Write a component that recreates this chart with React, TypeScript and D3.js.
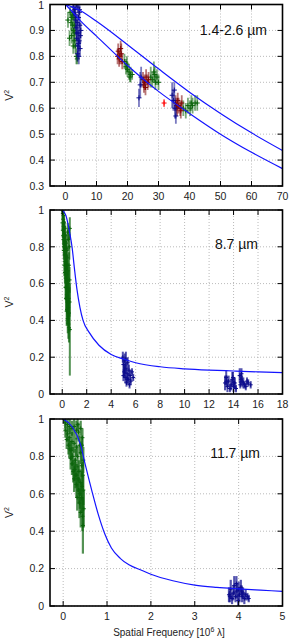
import React from 'react';
import * as d3 from 'd3';

// x: spatial frequency [10^6 lambda], y: V^2, e: V^2 error
type Pt = [number, number, number];
type XY = [number, number];

// ---- 1.4-2.6 um ----
const nirBlue: Pt[] = [
  [2.5, 0.99, 0.02], [3.0, 0.98, 0.02], [3.5, 1.0, 0.02], [4.0, 0.99, 0.02], [4.5, 0.98, 0.02],
  [3.2, 0.96, 0.03], [4.2, 0.95, 0.03], [3.8, 0.93, 0.03], [4.6, 0.92, 0.03], [3.4, 0.91, 0.03],
  [4.1, 0.89, 0.03], [4.8, 0.88, 0.03], [3.6, 0.87, 0.03], [4.4, 0.86, 0.03], [4.0, 0.84, 0.03],
  [4.7, 0.83, 0.03], [3.9, 0.81, 0.03], [4.3, 0.8, 0.03], [4.5, 0.97, 0.02], [2.8, 0.97, 0.02],
  [3.3, 0.94, 0.03], [4.9, 0.9, 0.03], [4.2, 0.85, 0.03], [3.7, 0.89, 0.03],
  [23.7, 0.64, 0.035], [24.1, 0.69, 0.05], [24.4, 0.72, 0.04],
  [34.4, 0.65, 0.05], [34.8, 0.63, 0.04], [35.1, 0.67, 0.03], [35.6, 0.57, 0.03], [35.3, 0.6, 0.04],
];
const nirGreen: Pt[] = [
  [1.5, 0.97, 0.02], [2.0, 0.95, 0.02], [1.8, 0.93, 0.03], [2.3, 0.92, 0.03], [2.6, 0.9, 0.03],
  [2.0, 0.88, 0.03], [3.0, 0.89, 0.03], [2.8, 0.86, 0.03], [2.5, 0.84, 0.03], [3.2, 0.84, 0.03],
  [3.5, 0.8, 0.03], [3.8, 0.79, 0.02], [0.8, 0.94, 0.03], [1.3, 0.87, 0.03], [2.2, 0.96, 0.02],
  [3.0, 0.92, 0.03], [2.7, 0.95, 0.02],
  [19.0, 0.78, 0.03], [19.5, 0.76, 0.03], [20.0, 0.75, 0.03], [20.5, 0.74, 0.03], [21.0, 0.73, 0.03],
  [19.8, 0.77, 0.03], [20.8, 0.72, 0.02], [21.5, 0.73, 0.02],
  [27.5, 0.72, 0.04], [28.0, 0.71, 0.03], [28.5, 0.74, 0.04], [29.0, 0.7, 0.03], [29.5, 0.72, 0.03],
  [30.0, 0.7, 0.03], [28.8, 0.73, 0.03],
  [38.0, 0.6, 0.03], [38.8, 0.59, 0.03], [39.5, 0.61, 0.03], [40.2, 0.6, 0.03], [41.0, 0.61, 0.03],
  [41.8, 0.62, 0.03], [42.5, 0.62, 0.03], [40.6, 0.62, 0.03],
];
const nirDarkRed: Pt[] = [
  [17.0, 0.82, 0.03], [17.5, 0.8, 0.03], [18.0, 0.81, 0.04], [17.3, 0.79, 0.03], [18.3, 0.78, 0.03],
  [17.8, 0.83, 0.03], [16.8, 0.8, 0.03],
  [25.0, 0.71, 0.03], [25.5, 0.7, 0.03], [26.0, 0.72, 0.03], [26.5, 0.7, 0.03], [25.3, 0.69, 0.03],
  [26.8, 0.71, 0.03], [25.8, 0.68, 0.03],
  [35.5, 0.62, 0.03], [36.0, 0.6, 0.03], [36.5, 0.61, 0.03], [37.0, 0.6, 0.03], [37.5, 0.62, 0.03],
  [36.2, 0.63, 0.03], [37.2, 0.59, 0.03], [35.8, 0.61, 0.03],
];
const nirRed: Pt[] = [[31.8, 0.62, 0.015]];
const nirModelUpper: XY[] = [
  [0, 1.0], [5, 0.975], [10, 0.935], [20, 0.845], [30, 0.752], [40, 0.662], [50, 0.58], [60, 0.505], [70, 0.437],
];
const nirModelLower: XY[] = [
  [0, 1.0], [2, 0.975], [5, 0.935], [10, 0.878], [20, 0.765], [30, 0.665], [40, 0.58], [50, 0.5], [60, 0.43], [70, 0.367],
];

// ---- 8.7 um ----
const n87Green: Pt[] = [
  [0.0, 1.0, 0.02], [0.05, 0.98, 0.03], [0.1, 0.97, 0.03], [0.08, 0.95, 0.04], [0.15, 0.93, 0.04],
  [0.12, 0.91, 0.04], [0.2, 0.9, 0.04], [0.05, 0.89, 0.04], [0.18, 0.87, 0.05], [0.25, 0.86, 0.05],
  [0.1, 0.84, 0.05], [0.22, 0.83, 0.05], [0.3, 0.82, 0.05], [0.15, 0.8, 0.05], [0.28, 0.79, 0.05],
  [0.35, 0.78, 0.05], [0.2, 0.76, 0.05], [0.32, 0.75, 0.06], [0.4, 0.74, 0.06], [0.25, 0.72, 0.06],
  [0.38, 0.7, 0.06], [0.3, 0.68, 0.06], [0.45, 0.67, 0.06], [0.35, 0.65, 0.06], [0.28, 0.63, 0.06],
  [0.42, 0.62, 0.07], [0.5, 0.6, 0.07], [0.33, 0.58, 0.07], [0.45, 0.56, 0.07], [0.38, 0.54, 0.07],
  [0.52, 0.52, 0.07], [0.42, 0.5, 0.08], [0.48, 0.47, 0.08], [0.36, 0.45, 0.08], [0.55, 0.44, 0.08],
  [0.45, 0.41, 0.08], [0.5, 0.38, 0.08], [0.55, 0.36, 0.08], [0.62, 0.35, 0.25], [0.62, 0.9, 0.06],
  [0.58, 0.8, 0.07], [0.55, 0.7, 0.07], [0.02, 0.93, 0.04], [0.07, 0.86, 0.05], [0.13, 0.78, 0.05],
  [0.17, 0.7, 0.06], [0.22, 0.66, 0.06], [0.27, 0.58, 0.07], [0.31, 0.52, 0.07], [0.4, 0.46, 0.08],
  [0.6, 0.62, 0.07], [0.6, 0.5, 0.08], [0.5, 0.84, 0.06], [0.45, 0.88, 0.05],
];
const n87Blue: Pt[] = [
  [4.95, 0.2, 0.03], [5.0, 0.16, 0.03], [5.05, 0.12, 0.03], [5.1, 0.18, 0.04], [5.15, 0.09, 0.03],
  [5.2, 0.14, 0.03], [5.25, 0.06, 0.02], [5.3, 0.11, 0.03], [5.35, 0.17, 0.03], [5.4, 0.08, 0.03],
  [5.45, 0.13, 0.03], [5.5, 0.05, 0.02], [5.55, 0.1, 0.03], [5.6, 0.07, 0.02], [5.7, 0.12, 0.02],
  [5.8, 0.09, 0.02], [5.2, 0.19, 0.04], [5.0, 0.1, 0.03], [5.1, 0.13, 0.03], [5.3, 0.08, 0.02],
  [13.3, 0.06, 0.04], [13.4, 0.09, 0.04], [13.5, 0.04, 0.03], [13.6, 0.07, 0.03], [13.7, 0.03, 0.02],
  [13.8, 0.05, 0.03], [13.9, 0.08, 0.04], [14.0, 0.04, 0.03], [14.1, 0.06, 0.03], [14.2, 0.03, 0.02],
  [14.5, 0.1, 0.04], [14.6, 0.08, 0.03], [14.7, 0.07, 0.03], [14.8, 0.06, 0.03], [14.9, 0.05, 0.02],
  [15.0, 0.04, 0.02], [15.2, 0.06, 0.02], [15.4, 0.05, 0.02], [14.65, 0.11, 0.03], [13.95, 0.09, 0.03],
  [13.45, 0.07, 0.03], [14.05, 0.06, 0.03], [14.55, 0.05, 0.02], [15.1, 0.07, 0.02],
];
const n87Model: XY[] = [
  [0, 1.0], [0.3, 0.97], [0.6, 0.88], [0.8, 0.8], [1.0, 0.68], [1.2, 0.57], [1.45, 0.47], [1.7, 0.4],
  [2.2, 0.335], [3, 0.265], [4, 0.215], [5, 0.19], [6, 0.17], [8, 0.148], [10, 0.137], [12, 0.13],
  [14, 0.125], [16, 0.12], [18, 0.116],
];

// ---- 11.7 um ----
const n117Green: Pt[] = [
  [0.02, 1.0, 0.02], [0.05, 0.98, 0.03], [0.1, 0.97, 0.04], [0.15, 0.96, 0.04], [0.2, 0.95, 0.04],
  [0.25, 0.96, 0.04], [0.3, 0.94, 0.05], [0.35, 0.93, 0.05], [0.05, 0.94, 0.04], [0.1, 0.92, 0.04],
  [0.15, 0.9, 0.05], [0.2, 0.88, 0.05], [0.25, 0.87, 0.05], [0.3, 0.85, 0.05], [0.38, 0.86, 0.05],
  [0.12, 0.86, 0.05], [0.18, 0.83, 0.05], [0.22, 0.8, 0.05], [0.28, 0.78, 0.06], [0.33, 0.8, 0.06],
  [0.4, 0.82, 0.06], [0.2, 0.76, 0.06], [0.26, 0.73, 0.06], [0.31, 0.7, 0.06], [0.36, 0.72, 0.06],
  [0.42, 0.75, 0.06], [0.25, 0.68, 0.07], [0.3, 0.65, 0.07], [0.35, 0.62, 0.07], [0.4, 0.66, 0.07],
  [0.45, 0.7, 0.07], [0.32, 0.58, 0.07], [0.37, 0.55, 0.08], [0.42, 0.58, 0.08], [0.46, 0.62, 0.08],
  [0.4, 0.5, 0.08], [0.44, 0.48, 0.08], [0.47, 0.52, 0.1], [0.45, 0.43, 0.15],
  [0.4, 0.95, 0.04], [0.44, 0.9, 0.05], [0.33, 0.97, 0.03], [0.08, 0.89, 0.05], [0.14, 0.84, 0.05],
  [0.17, 0.79, 0.06], [0.23, 0.72, 0.06], [0.28, 0.7, 0.07], [0.34, 0.68, 0.07], [0.38, 0.6, 0.08],
  [0.43, 0.64, 0.08], [0.46, 0.78, 0.07], [0.43, 0.86, 0.05],
];
const n117Blue: Pt[] = [
  [3.78, 0.06, 0.04], [3.82, 0.09, 0.05], [3.85, 0.04, 0.03], [3.88, 0.07, 0.04], [3.9, 0.11, 0.05],
  [3.93, 0.05, 0.03], [3.96, 0.08, 0.04], [3.99, 0.03, 0.03], [4.02, 0.06, 0.04], [4.05, 0.1, 0.04],
  [4.08, 0.05, 0.03], [4.1, 0.07, 0.03], [4.13, 0.04, 0.03], [4.16, 0.06, 0.03], [4.2, 0.05, 0.02],
  [4.23, 0.04, 0.02], [3.95, 0.12, 0.04], [4.0, 0.09, 0.04], [3.8, 0.05, 0.03], [4.07, 0.08, 0.03],
];
const n117Model: XY[] = [
  [0, 1.0], [0.2, 0.96], [0.4, 0.86], [0.5, 0.76], [0.65, 0.62], [0.8, 0.49], [0.95, 0.385], [1.1, 0.31],
  [1.3, 0.255], [1.5, 0.22], [1.8, 0.19], [2, 0.17], [2.5, 0.135], [3, 0.112], [3.5, 0.1], [4, 0.092],
  [4.5, 0.085], [5, 0.078],
];

const nirXTicks = [0, 10, 20, 30, 40, 50, 60, 70];
const nirYTicks = [0.3, 0.4, 0.5, 0.6, 0.7, 0.8, 0.9, 1];
const n87XTicks = [0, 2, 4, 6, 8, 10, 12, 14, 16, 18];
const n117XTicks = [0, 1, 2, 3, 4, 5];
const midYTicks = [0, 0.2, 0.4, 0.6, 0.8, 1];

const BLUE = '#0c0c8c';
const GREEN = '#0b640b';
const DARKRED = '#800606';
const RED = '#ff0000';
const FONT = '"Liberation Sans", Arial, Helvetica, sans-serif';

interface Series {
  points: Pt[];
  color: string;
}

interface PanelProps {
  id: string;
  top: number;
  bottom: number;
  xDomain: [number, number];
  yDomain: [number, number];
  xTicks: number[];
  yTicks: number[];
  series: Series[];
  models: XY[][];
  label: string;
  labelX: number;
  labelY: number;
  mark: number;
  barWidth: number;
  barOpacity: number;
}

const LEFT = 50;
const RIGHT = 282.5;

function Panel(props: PanelProps) {
  const { id, top, bottom, xDomain, yDomain, xTicks, yTicks, series, models, label, labelX, labelY, mark } = props;
  const x = d3.scaleLinear().domain(xDomain).range([LEFT, RIGHT]);
  const y = d3.scaleLinear().domain(yDomain).range([bottom, top]);
  const line = d3
    .line<XY>()
    .x(d => x(d[0]))
    .y(d => y(d[1]))
    .curve(d3.curveMonotoneX);
  const fmt = d3.format('~g');
  const tick = 5;

  return (
    <g>
      <defs>
        <clipPath id={id}>
          <rect x={LEFT} y={top} width={RIGHT - LEFT} height={bottom - top} />
        </clipPath>
      </defs>

      <g stroke="#a8a8a8" strokeWidth={0.8} strokeDasharray="1,2">
        {xTicks.map(t => (
          <line key={'gx' + t} x1={x(t)} x2={x(t)} y1={top} y2={bottom} />
        ))}
        {yTicks.map(t => (
          <line key={'gy' + t} x1={LEFT} x2={RIGHT} y1={y(t)} y2={y(t)} />
        ))}
      </g>

      <g clipPath={`url(#${id})`}>
        {series.map((s, i) => (
          <g key={i}>
            <g stroke={s.color} strokeOpacity={props.barOpacity} strokeWidth={props.barWidth}>
              {s.points.map((p, j) => (
                <line key={j} x1={x(p[0])} x2={x(p[0])} y1={y(p[1] - p[2])} y2={y(p[1] + p[2])} />
              ))}
            </g>
            <g stroke={s.color} strokeWidth={1}>
              {s.points.map((p, j) => (
                <path
                  key={j}
                  d={`M${x(p[0]) - mark},${y(p[1])}h${mark * 2}M${x(p[0])},${y(p[1]) - mark}v${mark * 2}`}
                />
              ))}
            </g>
          </g>
        ))}
        {models.map((m, i) => (
          <path key={i} d={line(m) || ''} fill="none" stroke="#1414ff" strokeWidth={1.2} />
        ))}
      </g>

      <g stroke="#000" strokeWidth={1}>
        {xTicks.map(t => (
          <g key={'tx' + t}>
            <line x1={x(t)} x2={x(t)} y1={bottom} y2={bottom - tick} />
            <line x1={x(t)} x2={x(t)} y1={top} y2={top + tick} />
          </g>
        ))}
        {yTicks.map(t => (
          <g key={'ty' + t}>
            <line x1={LEFT} x2={LEFT + tick} y1={y(t)} y2={y(t)} />
            <line x1={RIGHT} x2={RIGHT - tick} y1={y(t)} y2={y(t)} />
          </g>
        ))}
      </g>
      <rect x={LEFT} y={top} width={RIGHT - LEFT} height={bottom - top} fill="none" stroke="#000" strokeWidth={1.6} />

      <g fontFamily={FONT} fontSize={10.5} fill="#222">
        {xTicks.map(t => (
          <text key={'lx' + t} x={x(t)} y={bottom + 13.5} textAnchor="middle">
            {fmt(t)}
          </text>
        ))}
        {yTicks.map(t => (
          <text key={'ly' + t} x={LEFT - 6} y={Math.max(y(t) + 3.7, 9)} textAnchor="end">
            {fmt(t)}
          </text>
        ))}
        <text transform={`translate(13,${(top + bottom) / 2}) rotate(-90)`} textAnchor="middle">
          V<tspan dy={-4} fontSize={7}>2</tspan>
        </text>
      </g>
      <text x={labelX} y={labelY} textAnchor="end" fontFamily={FONT} fontSize={14} fill="#111">
        {label}
      </text>
    </g>
  );
}

export default function App() {
  return (
    <svg width={289} height={639} style={{ position: 'absolute', left: 0, top: 0, background: '#fff' }}>
      <Panel
        id="clip-nir"
        top={4.5}
        bottom={186}
        xDomain={[-5, 70]}
        yDomain={[0.3, 1]}
        xTicks={nirXTicks}
        yTicks={nirYTicks}
        series={[
          { points: nirGreen, color: GREEN },
          { points: nirDarkRed, color: DARKRED },
          { points: nirBlue, color: BLUE },
          { points: nirRed, color: RED },
        ]}
        models={[nirModelUpper, nirModelLower]}
        label="1.4-2.6 µm"
        labelX={267}
        labelY={35}
        mark={2.5}
        barWidth={1.8}
        barOpacity={0.55}
      />
      <Panel
        id="clip-87"
        top={210}
        bottom={394}
        xDomain={[-1, 18]}
        yDomain={[0, 1]}
        xTicks={n87XTicks}
        yTicks={midYTicks}
        series={[
          { points: n87Green, color: GREEN },
          { points: n87Blue, color: BLUE },
        ]}
        models={[n87Model]}
        label="8.7 µm"
        labelX={258}
        labelY={249}
        mark={2}
        barWidth={2}
        barOpacity={0.7}
      />
      <Panel
        id="clip-117"
        top={419}
        bottom={606}
        xDomain={[-0.3, 5]}
        yDomain={[0, 1]}
        xTicks={n117XTicks}
        yTicks={midYTicks}
        series={[
          { points: n117Green, color: GREEN },
          { points: n117Blue, color: BLUE },
        ]}
        models={[n117Model]}
        label="11.7 µm"
        labelX={260}
        labelY={458}
        mark={2}
        barWidth={2.2}
        barOpacity={0.7}
      />
      <text x={169} y={636} textAnchor="middle" fontFamily={FONT} fontSize={10} fill="#222">
        Spatial Frequency [10<tspan dy={-4} fontSize={7}>6</tspan>
        <tspan dy={4}> λ]</tspan>
      </text>
    </svg>
  );
}
